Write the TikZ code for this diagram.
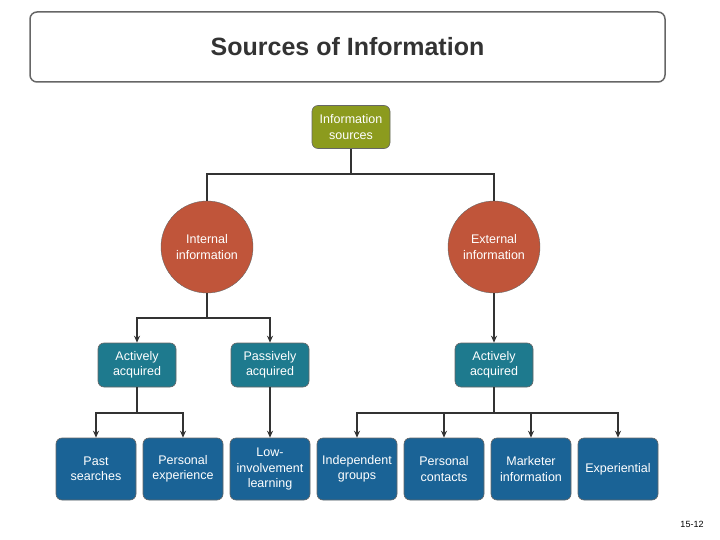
\documentclass[tikz,border=0pt]{standalone}
\usepackage{fontspec}
\setmainfont{Liberation Sans}
\usetikzlibrary{arrows.meta}
\definecolor{olive}{HTML}{8C9B1E}
\definecolor{rust}{HTML}{C0553A}
\definecolor{teal}{HTML}{1E7A8E}
\definecolor{blu}{HTML}{1A6396}
\begin{document}
\begin{tikzpicture}[x=1pt,y=-1pt,
 box/.style={draw=black!60,line width=0.6pt,rounded corners=6pt,text=white,align=center,font=\fontsize{12.5}{15.5}\selectfont,inner sep=1pt},
 topbox/.style={box,fill=olive,minimum width=78pt,minimum height=43pt},
 circ/.style={circle,draw=black!60,fill=rust,text=white,align=center,minimum size=92pt,font=\fontsize{12.5}{15.5}\selectfont,inner sep=0pt},
 midbox/.style={box,fill=teal,minimum width=78pt,minimum height=44pt},
 botbox/.style={box,fill=blu,minimum width=80pt,minimum height=62pt},
 ln/.style={draw=black!80,line width=1.4pt},
 arr/.style={ln,-{Stealth[length=7pt,width=6pt]}}]
\useasboundingbox (0,0) rectangle (720,540);
\node[draw=black!60,line width=1.5pt,rounded corners=7pt,minimum width=635pt,minimum height=70pt,text=black!80,font=\bfseries\fontsize{25}{30}\selectfont] (title) at (347.5,47) {Sources of Information};
\node[topbox] (src) at (351,127) {Information\\sources};
\node[circ] (int) at (207,247) {Internal\\information};
\node[circ] (ext) at (494,247) {External\\information};
\node[midbox] (a1) at (137,365) {Actively\\acquired};
\node[midbox] (p1) at (270,365) {Passively\\acquired};
\node[midbox] (a2) at (494,365) {Actively\\acquired};
\node[botbox] (b1) at (96,469) {Past\\searches};
\node[botbox] (b2) at (183,469) {Personal\\experience};
\node[botbox] (b3) at (270,469) {Low-\\involvement\\learning};
\node[botbox] (b4) at (357,469) {Independent\\groups};
\node[botbox] (b5) at (444,469) {Personal\\contacts};
\node[botbox] (b6) at (531,469) {Marketer\\information};
\node[botbox] (b7) at (618,469) {Experiential};
\node[font=\fontsize{9}{11}\selectfont] (pg) at (692,524) {15-12};
\coordinate (j0) at (351,174);
\draw[ln] (src.south) -- (j0);
\draw[ln] (int.north) -- (int.north |- j0) -- (ext.north |- j0) -- (ext.north);
\coordinate (j1) at (207,318);
\draw[ln] (int.south) -- (j1);
\draw[arr] (j1) -| (a1.north);
\draw[arr] (j1) -| (p1.north);
\draw[arr] (ext.south) -- (a2.north);
\coordinate (j2) at (137,413);
\draw[ln] (a1.south) -- (j2);
\draw[arr] (j2) -| (b1.north);
\draw[arr] (j2) -| (b2.north);
\draw[arr] (p1.south) -- (b3.north);
\coordinate (j3) at (494,413);
\draw[ln] (a2.south) -- (j3);
\draw[arr] (j3) -| (b4.north);
\draw[arr] (j3) -| (b5.north);
\draw[arr] (j3) -| (b6.north);
\draw[arr] (j3) -| (b7.north);
\end{tikzpicture}
\end{document}
